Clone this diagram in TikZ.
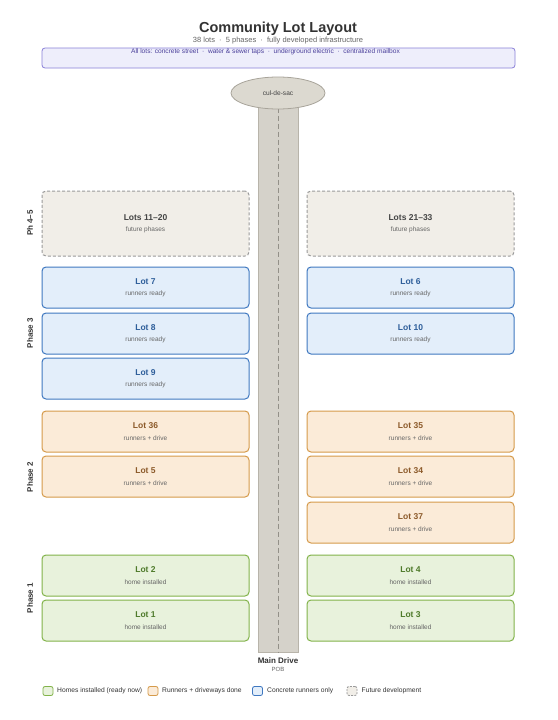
\documentclass[tikz,border=0pt]{standalone}
\usepackage{fontspec}
\setmainfont{Liberation Sans}
\usetikzlibrary{shapes.geometric}
\definecolor{gF}{HTML}{E8F2DC}\definecolor{gD}{HTML}{82B34A}\definecolor{gT}{HTML}{4E7A2A}
\definecolor{oF}{HTML}{FBEBD8}\definecolor{oD}{HTML}{D59A4A}\definecolor{oT}{HTML}{8C5A2A}
\definecolor{bF}{HTML}{E3EEFA}\definecolor{bD}{HTML}{3F78C0}\definecolor{bT}{HTML}{2E5E9A}
\definecolor{fF}{HTML}{F1EEE8}\definecolor{fD}{HTML}{9A9A9A}\definecolor{fT}{HTML}{444444}
\definecolor{subc}{HTML}{666666}\definecolor{txt}{HTML}{333333}
\definecolor{banF}{HTML}{EEEEFB}\definecolor{banD}{HTML}{8A80D8}\definecolor{banT}{HTML}{4A3F9A}
\definecolor{roadF}{HTML}{D5D2CA}\definecolor{roadD}{HTML}{B8B4AA}
\definecolor{culF}{HTML}{DCD9D0}\definecolor{culD}{HTML}{A8A49A}
\newcommand{\lotlbl}[3]{{\fontsize{8.5}{9}\selectfont\bfseries\textcolor{#1}{#2}}\\[-0.5pt]{\fontsize{6.5}{7}\selectfont\textcolor{subc}{#3}}}
\newcommand{\sepdot}{\ \ \textperiodcentered\ \ }
\tikzset{
  x=1pt,y=-1pt,
  lotbox/.style={rounded corners=4pt, line width=1pt, minimum width=207pt, minimum height=41pt, align=center, inner sep=0pt},
  lotG/.style={lotbox, fill=gF, draw=gD},
  lotO/.style={lotbox, fill=oF, draw=oD},
  lotB/.style={lotbox, fill=bF, draw=bD},
  lotF/.style={lotbox, fill=fF, draw=fD, dashed, dash pattern=on 3pt off 2pt, minimum height=65pt},
  phase/.style={rotate=90, font=\fontsize{8}{9}\selectfont\bfseries, text=txt},
  swatch/.style={rounded corners=2pt, line width=0.8pt, minimum width=10pt, minimum height=9pt, inner sep=0pt},
  legtxt/.style={font=\fontsize{6.7}{7}\selectfont, text=txt, anchor=west, inner sep=0pt}
}
\begin{document}
\begin{tikzpicture}
\useasboundingbox (0,0) rectangle (557,720);
\fill[white] (0,0) rectangle (557,720);
% title
\node[font=\fontsize{14.5}{15}\selectfont\bfseries, text=txt] (title) at (278,29) {Community Lot Layout};
\node[font=\fontsize{7.5}{8}\selectfont, text=subc] (subtitle) at (278,41) {38 lots\sepdot 5 phases\sepdot fully developed infrastructure};
\node[draw=banD, fill=banF, rounded corners=3pt, line width=0.8pt, minimum width=473pt, minimum height=20pt, inner sep=0pt] (banner) at (278.5,58) {};
\node[font=\fontsize{6.6}{7}\selectfont, text=banT] (bantext) at (265.5,51.5) {All lots: concrete street\sepdot water \& sewer taps\sepdot underground electric\sepdot centralized mailbox};
% road
\node[draw=roadD, fill=roadF, line width=0.6pt, minimum width=40pt, minimum height=552pt, inner sep=0pt] (road) at (278,376) {};
\draw[roadD!80!black, line width=0.5pt, dash pattern=on 5pt off 3pt] (road.north) -- (road.south);
\node[ellipse, draw=culD, fill=culF, line width=0.8pt, minimum width=94pt, minimum height=32pt, inner sep=0pt, font=\fontsize{6.6}{7}\selectfont, text=fT] (cul) at (278,93) {cul-de-sac};
\node[font=\fontsize{8}{9}\selectfont\bfseries, text=txt] (main) at (278,661) {Main Drive};
\node[font=\fontsize{6}{7}\selectfont, text=subc] (pob) at (278,669.5) {POB};
% future
\node[lotF] (l1120) at (145.5,223.5) {\lotlbl{fT}{Lots 11–20}{future phases}};
\node[lotF] (l2133) at (410.5,223.5) {\lotlbl{fT}{Lots 21–33}{future phases}};
% phase 3
\node[lotB] (l7) at (145.5,287.5) {\lotlbl{bT}{Lot 7}{runners ready}};
\node[lotB] (l8) at (145.5,333.5) {\lotlbl{bT}{Lot 8}{runners ready}};
\node[lotB] (l9) at (145.5,378.5) {\lotlbl{bT}{Lot 9}{runners ready}};
\node[lotB] (l6) at (410.5,287.5) {\lotlbl{bT}{Lot 6}{runners ready}};
\node[lotB] (l10) at (410.5,333.5) {\lotlbl{bT}{Lot 10}{runners ready}};
% phase 2
\node[lotO] (l36) at (145.5,431.5) {\lotlbl{oT}{Lot 36}{runners + drive}};
\node[lotO] (l5) at (145.5,476.5) {\lotlbl{oT}{Lot 5}{runners + drive}};
\node[lotO] (l35) at (410.5,431.5) {\lotlbl{oT}{Lot 35}{runners + drive}};
\node[lotO] (l34) at (410.5,476.5) {\lotlbl{oT}{Lot 34}{runners + drive}};
\node[lotO] (l37) at (410.5,522.5) {\lotlbl{oT}{Lot 37}{runners + drive}};
% phase 1
\node[lotG] (l2) at (145.5,575.5) {\lotlbl{gT}{Lot 2}{home installed}};
\node[lotG] (l1) at (145.5,620.5) {\lotlbl{gT}{Lot 1}{home installed}};
\node[lotG] (l4) at (410.5,575.5) {\lotlbl{gT}{Lot 4}{home installed}};
\node[lotG] (l3) at (410.5,620.5) {\lotlbl{gT}{Lot 3}{home installed}};
% phase labels
\node[phase] (ph45) at (30,223) {Ph 4–5};
\node[phase] (ph3) at (30,333) {Phase 3};
\node[phase] (ph2) at (30,477) {Phase 2};
\node[phase] (ph1) at (30,598) {Phase 1};
% legend
\node[swatch, fill=gF, draw=gD] (sg) at (48,691) {};
\node[legtxt] (tg) at (57,691) {Homes installed (ready now)};
\node[swatch, fill=oF, draw=oD] (so) at (153,691) {};
\node[legtxt] (to) at (162,691) {Runners + driveways done};
\node[swatch, fill=bF, draw=bD] (sb) at (257.5,691) {};
\node[legtxt] (tb) at (267,691) {Concrete runners only};
\node[swatch, fill=fF, draw=fD, dashed, dash pattern=on 2pt off 1.2pt] (sf) at (352,691) {};
\node[legtxt] (tf) at (361.5,691) {Future development};
\end{tikzpicture}
\end{document}
